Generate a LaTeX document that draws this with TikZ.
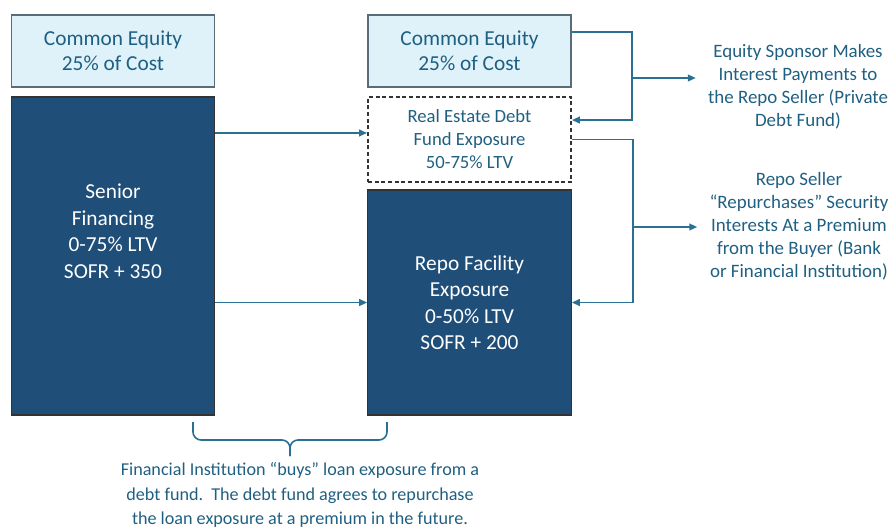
\documentclass[tikz,border=0pt]{standalone}
\usepackage{fontspec}
\setmainfont{Carlito}
\usepackage{tikz}
\usetikzlibrary{arrows.meta}
\usepackage{xcolor}
\definecolor{boxblue}{RGB}{31,78,121}
\definecolor{paleblue}{RGB}{223,242,250}
\definecolor{edgegray}{RGB}{88,108,122}
\definecolor{linkblue}{RGB}{42,112,148}
\definecolor{txtblue}{RGB}{31,96,130}

\begin{document}
\begin{tikzpicture}[x=0.75pt,y=0.75pt,yscale=-1,xscale=1,
  equitybox/.style={draw=edgegray,line width=1.1pt,fill=paleblue,inner sep=0pt,
    minimum width=152.5pt,minimum height=54pt,align=center,text=txtblue,
    font=\fontsize{16}{18.75}\selectfont},
  loanbox/.style={draw=black!80,line width=0.9pt,fill=boxblue,inner sep=0pt,
    minimum width=152.5pt,align=center,text=white,
    font=\fontsize{16}{19.9}\selectfont},
  loantext/.style={align=center,text=white,font=\fontsize{16}{19.9}\selectfont},
  fundbox/.style={draw=black!80,line width=1.1pt,dash pattern=on 3pt off 2pt,
    inner sep=0pt,minimum width=152.5pt,minimum height=63.75pt,align=center,
    text=txtblue,font=\fontsize{14}{17.25}\selectfont},
  sidenote/.style={align=center,text=txtblue,inner xsep=9pt,
    font=\fontsize{14.2}{17.3}\selectfont},
  link/.style={draw=linkblue,line width=1.4pt,-{Triangle[length=6pt,width=5pt]}},
  bus/.style={draw=linkblue,line width=1.4pt}
]
%uncomment if require: \path (0,529); %set diagram left start at 0, and has height of 529
\useasboundingbox (0,0) rectangle (892,529);

% Left column
\node [equitybox] (eqL) at (113,51) {Common Equity\\25\% of Cost};
\node [loanbox,minimum height=238.5pt] (senior) at (113,256) {};
\node [loantext] (seniorTxt) at (113,231) {Senior\\Financing\\0-75\% LTV\\SOFR + 350};

% Right column
\node [equitybox] (eqR) at (469.5,51) {Common Equity\\25\% of Cost};
\node [fundbox] (fund) at (469.5,139.5) {Real Estate Debt\\Fund Exposure\\50-75\% LTV};
\node [loanbox,minimum height=168.75pt] (repo) at (469.5,302.5) {Repo Facility\\Exposure\\0-50\% LTV\\SOFR + 200};

% Text Node
\node [sidenote] (sponsor) at (798,87) {Equity Sponsor Makes\\Interest Payments to\\the Repo Seller (Private\\Debt Fund)};
% Text Node
\node [sidenote] (seller) at (799,226) {Repo Seller\\``Repurchases'' Security\\Interests At a Premium\\from the Buyer (Bank\\or Financial Institution)};
% Text Node
\node [align=center,text=txtblue,font=\fontsize{13.6}{18.6}\selectfont] (note) at (300,495)
  {Financial Institution ``buys'' loan exposure from a\\debt fund.\ \ The debt fund agrees to repurchase\\the loan exposure at a premium in the future.};

% Junction points
\coordinate (busA) at (632,78);
\coordinate (busB) at (633,227);
\coordinate (fundIn) at ([yshift=-4.9pt]fund.west);
\coordinate (fundBack) at ([yshift=-14.6pt]fund.east);
\coordinate (eqOut) at ([yshift=-14.25pt]eqR.east);

%Straight Lines
\draw [link] (senior.east |- fundIn) -- (fundIn);
\draw [link] (senior.east |- repo.west) -- (repo.west);

%Brackets on the right
\draw [bus] (eqOut) -| (busA);
\draw [link] (busA) |- (fundBack);
\draw [link] (busA) -- (sponsor.west |- busA);
\draw [bus] (fund.east) -| (busB);
\draw [link] (busB) |- (repo.east);
\draw [link] (busB) -- (seller.west |- busB);

%Shape: Brace
\draw [linkblue,line width=1.2pt,rounded corners=6pt] (193,422) |- (290,440) -- (290,456);
\draw [linkblue,line width=1.2pt,rounded corners=6pt] (387,422) |- (290,440) -- (290,456);

\end{tikzpicture}
\end{document}
